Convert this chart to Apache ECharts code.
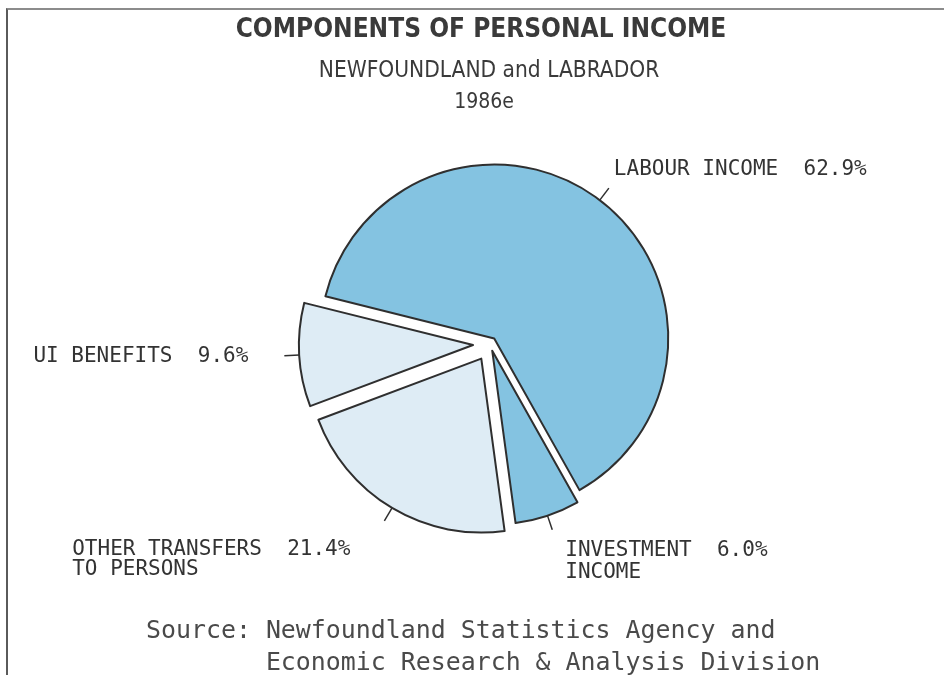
<!DOCTYPE html>
<html>
<head>
<meta charset="utf-8">
<script src="https://cdn.jsdelivr.net/npm/echarts@6/dist/echarts.min.js"></script>
<style>
  html, body { margin: 0; padding: 0; background: #fff; }
  #chart { width: 944px; height: 675px; }
  #frame {
    position: absolute; left: 6px; top: 8px; width: 940px; height: 670px;
    border-top: 2px solid #8c8c8c; border-left: 2px solid #5a5a5a;
    pointer-events: none;
  }
</style>
</head>
<body>
<div id="chart"></div>
<div id="frame"></div>
<script>
// Components of personal income, Newfoundland and Labrador, 1986 (estimate)
const nameLine1 = ['LABOUR INCOME', 'INVESTMENT', 'OTHER TRANSFERS', 'UI BENEFITS'];
const nameLine2 = ['', 'INCOME', 'TO PERSONS', ''];
const shares = [62.9, 6.0, 21.4, 9.6];
// slices in group 1 sit close to the centre, group 2 are pulled further out
const pullGroup = [1, 1, 2, 2];

const titleText = 'COMPONENTS OF PERSONAL INCOME';
const regionText = 'NEWFOUNDLAND and LABRADOR';
const yearText = '1986e';
const sourceLines = ['Source: Newfoundland Statistics Agency and',
                     '        Economic Research & Analysis Division'];

const DARK_BLUE = '#84c3e1';
const PALE_BLUE = '#deecf5';
const fills = [DARK_BLUE, DARK_BLUE, PALE_BLUE, PALE_BLUE];
const MONO = "'DejaVu Sans Mono', 'Liberation Mono', monospace";
const NARROW = "'Liberation Sans Narrow', 'DejaVu Sans Condensed', 'Liberation Sans', sans-serif";
const INK = '#333333';

// gap between tick end and text, line spacing, and a spacer line that lifts or drops the text
const tickGap = [5, 13, 34, 36];
const lineGap = [21, 22, 20, 21];
const spacer = [{ h: 37, below: true }, { h: 64, below: false }, { h: 78, below: false }, { h: 2, below: false }];

function labelText(i) {
  const first = nameLine1[i] + '  ' + shares[i].toFixed(1) + '%';
  const lines = [first];
  if (nameLine2[i]) {
    // pad so both lines stay flush left when the block is right-aligned
    lines.push(nameLine2[i] + ' '.repeat(Math.max(0, first.length - nameLine2[i].length)));
  }
  const out = lines.map(s => '{t' + i + '|' + s + '}');
  const sp = spacer[i];
  if (sp) {
    if (sp.below) out.push('{sp' + i + '| }');
    else out.unshift('{sp' + i + '| }');
  }
  return out.join('\n');
}

function richFor(i) {
  const rich = {};
  rich['t' + i] = { fontFamily: MONO, fontSize: 21, lineHeight: lineGap[i], color: INK };
  if (spacer[i]) rich['sp' + i] = { fontSize: 2, lineHeight: spacer[i].h, color: 'rgba(0,0,0,0)' };
  return rich;
}

const hiddenStyle = { color: 'rgba(0,0,0,0)', borderWidth: 0 };

// one pie per pull-out distance; each draws only its own slices
function pieData(group) {
  return shares.map((v, i) => {
    if (pullGroup[i] !== group) {
      return { name: nameLine1[i], value: v, itemStyle: hiddenStyle,
               label: { show: false }, labelLine: { show: false } };
    }
    return {
      name: nameLine1[i],
      value: v,
      selected: true,
      itemStyle: { color: fills[i] },
      label: { formatter: labelText(i), rich: richFor(i), distanceToLabelLine: tickGap[i] }
    };
  });
}

const basePie = {
  type: 'pie',
  center: [490, 344],
  radius: 174,
  startAngle: 166,
  clockwise: true,
  selectedMode: 'multiple',
  avoidLabelOverlap: false,
  silent: true,
  emphasis: { disabled: true },
  itemStyle: { borderColor: '#2f2f2f', borderWidth: 2 },
  label: {
    show: true,
    position: 'outside',
    fontFamily: MONO,
    fontSize: 21,
    color: INK
  },
  labelLine: {
    show: true,
    length: 15,
    length2: 0,
    lineStyle: { color: '#2f2f2f', width: 1.5 }
  }
};

const chart = echarts.init(document.getElementById('chart'), null, { renderer: 'canvas' });
chart.setOption({
  backgroundColor: '#ffffff',
  animation: false,
  title: [
    { text: titleText, left: 476, top: 12, textAlign: 'center',
      textStyle: { fontFamily: NARROW, fontWeight: 'bold', fontSize: 26, color: '#3a3a3a' } },
    { text: regionText, left: 484, top: 55, textAlign: 'center',
      textStyle: { fontFamily: NARROW, fontWeight: 'normal', fontSize: 22.5, color: '#3a3a3a' } },
    { text: yearText, left: 479, top: 87, textAlign: 'center',
      textStyle: { fontFamily: NARROW, fontWeight: 'normal', fontSize: 21, color: '#3a3a3a' } },
    { text: sourceLines.join('\n'), left: 141, top: 611, textAlign: 'left',
      textStyle: { fontFamily: MONO, fontWeight: 'normal', fontSize: 24.9, lineHeight: 32, color: '#4a4a4a' } }
  ],
  series: [
    Object.assign({}, basePie, { selectedOffset: 7, data: pieData(1) }),
    Object.assign({}, basePie, { selectedOffset: 17, data: pieData(2) })
  ]
});
</script>
</body>
</html>
